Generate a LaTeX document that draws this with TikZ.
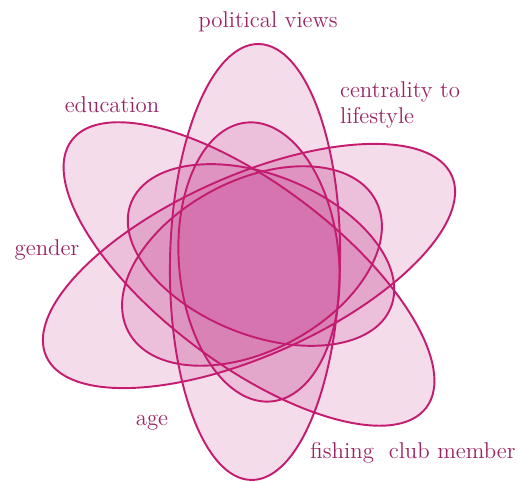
\documentclass[tikz,border=0pt]{standalone}
\usetikzlibrary{positioning}
\definecolor{fcRose}{RGB}{190,40,130}
\definecolor{fcLine}{RGB}{196,28,112}
\definecolor{fcText}{RGB}{155,36,100}

\begin{document}
\begin{tikzpicture}[
    x=0.02cm, y=0.02cm,
    petal/.style={fill=fcRose, fill opacity=0.16},
    rim/.style={draw=fcLine, line width=1.1pt},
    tag/.style={font=\fontsize{13}{15}\selectfont, text=fcText, inner sep=1pt}
]
  \useasboundingbox (0,0) rectangle (525,482);

  % fills first
  \fill[petal, rotate around={89:(255,220)}] (255,220) ellipse [x radius=218, y radius=85];
  \fill[petal, rotate around={-37:(249,208)}] (249,208) ellipse [x radius=222, y radius=90];
  \fill[petal, rotate around={24:(249,216)}] (249,216) ellipse [x radius=222, y radius=90];
  \fill[petal, rotate around={95:(259,220)}] (259,220) ellipse [x radius=140, y radius=80];
  \fill[petal, rotate around={28:(252,216)}] (252,216) ellipse [x radius=140, y radius=85];
  \fill[petal, rotate around={-22:(261,227)}] (261,227) ellipse [x radius=140, y radius=80];

  % then the rims on top
  \draw[rim, rotate around={89:(255,220)}] (255,220) ellipse [x radius=218, y radius=85];
  \draw[rim, rotate around={-37:(249,208)}] (249,208) ellipse [x radius=222, y radius=90];
  \draw[rim, rotate around={24:(249,216)}] (249,216) ellipse [x radius=222, y radius=90];
  \draw[rim, rotate around={95:(259,220)}] (259,220) ellipse [x radius=140, y radius=80];
  \draw[rim, rotate around={28:(252,216)}] (252,216) ellipse [x radius=140, y radius=85];
  \draw[rim, rotate around={-22:(261,227)}] (261,227) ellipse [x radius=140, y radius=80];

  \node[tag] (pol) at (268,460) {political views};
  \node[tag, align=left, anchor=west] (cen) at (338,377) {centrality to\\lifestyle};
  \node[tag] (edu) at (112,377) {education};
  \node[tag] (gen) at (47,232) {gender};
  \node[tag] (age) at (152,59) {age};
  \node[tag] (fish) at (413,29) {fishing\ \ club member};
\end{tikzpicture}
\end{document}
